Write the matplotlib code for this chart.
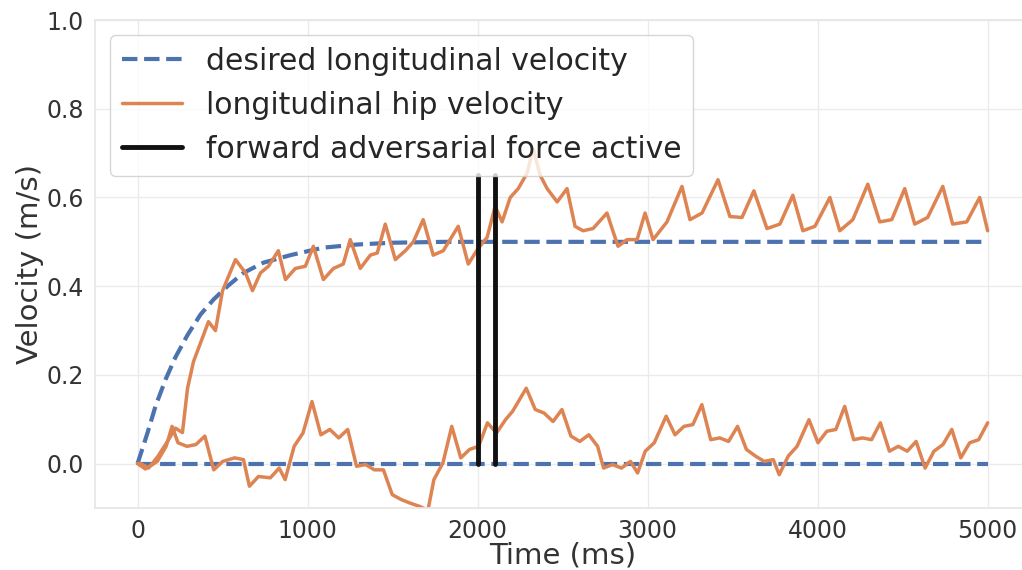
import matplotlib
matplotlib.use("Agg")
import matplotlib.pyplot as plt
import seaborn as sns

# desired velocities
t_des_long = [0, 59, 106, 165, 223, 294, 370, 447, 529, 623, 740, 899, 1093, 1293, 1500, 1800, 5000]
v_des_long = [0.0, 0.07, 0.13, 0.19, 0.24, 0.29, 0.336, 0.37, 0.40, 0.43, 0.453, 0.47, 0.487, 0.494, 0.498, 0.5, 0.5]
t_des_lat = [0, 5000]
v_des_lat = [0.0, 0.0]

# measured longitudinal hip velocity
t_long = [0, 18, 65, 117, 176, 223, 264, 294, 329, 388, 417, 458, 500, 576, 635, 676, 723, 770,
          828, 870, 928, 987, 1034, 1093, 1152, 1210, 1251, 1310, 1369, 1410, 1457, 1516, 1575,
          1622, 1680, 1739, 1798, 1886, 1945, 2003, 2056, 2103, 2144, 2192, 2239, 2291, 2327,
          2368, 2409, 2468, 2526, 2573, 2620, 2679, 2761, 2791, 2826, 2879, 2938, 2985, 3032,
          3114, 3202, 3249, 3320, 3414, 3484, 3555, 3625, 3702, 3778, 3854, 3913, 3984, 4072,
          4130, 4207, 4295, 4365, 4436, 4512, 4571, 4647, 4736, 4794, 4877, 4953, 5000]
v_long = [0.0, 0.0, -0.01, 0.015, 0.05, 0.08, 0.07, 0.17, 0.23, 0.29, 0.32, 0.30, 0.39, 0.46,
          0.43, 0.39, 0.43, 0.445, 0.48, 0.415, 0.44, 0.445, 0.49, 0.415, 0.44, 0.45, 0.505,
          0.44, 0.47, 0.475, 0.54, 0.46, 0.48, 0.50, 0.55, 0.47, 0.48, 0.535, 0.45, 0.485, 0.51,
          0.58, 0.545, 0.60, 0.62, 0.655, 0.71, 0.65, 0.62, 0.59, 0.62, 0.535, 0.525, 0.53,
          0.565, 0.53, 0.49, 0.505, 0.505, 0.565, 0.505, 0.545, 0.625, 0.55, 0.565, 0.64, 0.557,
          0.555, 0.615, 0.53, 0.54, 0.605, 0.525, 0.535, 0.60, 0.525, 0.55, 0.63, 0.545, 0.55,
          0.62, 0.54, 0.555, 0.625, 0.54, 0.545, 0.60, 0.525]

# measured lateral hip velocity
t_lat = [0, 46, 116, 168, 203, 238, 291, 343, 396, 448, 501, 571, 623, 658, 711, 781, 833, 868,
         921, 973, 1026, 1078, 1131, 1183, 1236, 1288, 1341, 1393, 1446, 1498, 1551, 1603, 1656,
         1708, 1743, 1796, 1848, 1901, 1953, 2006, 2058, 2111, 2164, 2206, 2286, 2339, 2391,
         2444, 2496, 2549, 2601, 2654, 2706, 2741, 2794, 2846, 2899, 2941, 2986, 3039, 3109,
         3161, 3214, 3266, 3319, 3371, 3424, 3476, 3529, 3581, 3634, 3686, 3739, 3774, 3827,
         3879, 3949, 4002, 4054, 4107, 4159, 4212, 4264, 4317, 4369, 4422, 4474, 4527, 4579,
         4632, 4684, 4737, 4789, 4842, 4894, 4947, 5000]
v_lat = [0.0, -0.012, 0.005, 0.039, 0.084, 0.047, 0.039, 0.043, 0.062, -0.014, 0.005, 0.013,
         0.009, -0.051, -0.029, -0.032, -0.01, -0.036, 0.039, 0.069, 0.14, 0.065, 0.077, 0.058,
         0.077, -0.006, -0.002, -0.014, -0.014, -0.07, -0.081, -0.089, -0.096, -0.105, -0.036,
         0.0015, 0.084, 0.013, 0.032, 0.039, 0.092, 0.069, 0.099, 0.118, 0.17, 0.122, 0.114,
         0.095, 0.122, 0.062, 0.05, 0.065, 0.039, -0.01, -0.002, -0.01, 0.005, -0.021, 0.028,
         0.047, 0.107, 0.065, 0.084, 0.088, 0.133, 0.054, 0.058, 0.05, 0.084, 0.032, 0.017,
         0.005, 0.009, -0.025, 0.017, 0.039, 0.099, 0.047, 0.073, 0.077, 0.129, 0.054, 0.058,
         0.054, 0.092, 0.028, 0.039, 0.028, 0.05, -0.01, 0.028, 0.043, 0.077, 0.013, 0.047,
         0.054, 0.092]

# adversarial force on/off times
force_times = [2000, 2100]
force_top = 0.65

sns.set_theme(style="whitegrid")
plt.rcParams['font.family'] = ['DejaVu Sans']

blue = '#4C72B0'
orange = '#DD8452'

fig = plt.figure(figsize=(10.22, 5.7), dpi=100)
ax = fig.add_axes([0.093, 0.1088, 0.915, 0.856])

ax.plot(t_des_long, v_des_long, '--', color=blue, lw=3, label='desired longitudinal velocity')
ax.plot(t_des_lat, v_des_lat, '--', color=blue, lw=3)
ax.plot(t_long, v_long, color=orange, lw=2.5, label='longitudinal hip velocity')
ax.plot(t_lat, v_lat, color=orange, lw=2.5)
for i, ft in enumerate(force_times):
    ax.plot([ft, ft], [0, force_top], color='#111111', lw=3.5,
            label='forward adversarial force active' if i == 0 else None)

ax.set_xlim(-250, 5250)
ax.set_ylim(-0.1, 1.0)
ax.set_xticks([0, 1000, 2000, 3000, 4000, 5000])
ax.set_yticks([0.0, 0.2, 0.4, 0.6, 0.8, 1.0])
ax.tick_params(labelsize=17, colors='#333333', pad=2)
ax.set_xlabel('Time (ms)', fontsize=21, color='#333333', labelpad=-1)
ax.set_ylabel('Velocity (m/s)', fontsize=21, color='#333333', labelpad=2)
ax.grid(color='#EBEBEB')
for s in ax.spines.values():
    s.set_color('#E6E6E6')

ax.legend(loc='upper left', fontsize=21.5, handlelength=2.0)

fig.savefig('out.png', dpi=100)
